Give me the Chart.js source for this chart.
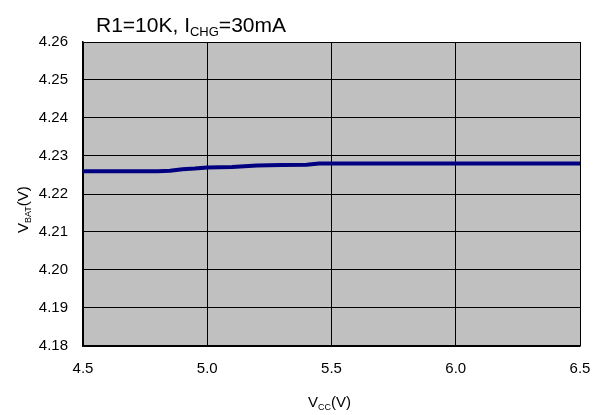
<!DOCTYPE html>
<html>
<head>
<meta charset="utf-8">
<script src="https://cdn.jsdelivr.net/npm/chart.js@4/dist/chart.umd.min.js"></script>
<style>
  html, body { margin: 0; padding: 0; background: #fff; }
  #wrap { width: 597px; height: 415px; }
</style>
</head>
<body>
<div id="wrap"><canvas id="chart"></canvas></div>
<script>
// supply voltage (V) and measured battery voltage (V)
const vcc = [4.5, 4.6, 4.7, 4.8, 4.85, 4.9, 4.95, 5.0, 5.1, 5.2, 5.3, 5.4, 5.45, 5.5, 5.75, 6.0, 6.25, 6.5];
const vbat = [4.226, 4.226, 4.226, 4.226, 4.2261, 4.2265, 4.2267, 4.227, 4.2271, 4.2275, 4.2276, 4.2277, 4.228, 4.228, 4.228, 4.228, 4.228, 4.228];

const xTicks = [4.5, 5.0, 5.5, 6.0, 6.5];
const yTicks = [4.18, 4.19, 4.20, 4.21, 4.22, 4.23, 4.24, 4.25, 4.26];

const FONT = 'Arial, "Liberation Sans", sans-serif';

// draw a run of text pieces, some of them as subscripts
function drawRich(ctx, parts, x, y, size) {
  let cx = x;
  parts.forEach(p => {
    const s = p.sub ? Math.round(size * 0.62) : size;
    ctx.font = s + 'px ' + FONT;
    ctx.fillText(p.t, cx, p.sub ? y + size * 0.18 : y);
    cx += ctx.measureText(p.t).width;
  });
}

const plotBg = {
  id: 'plotBg',
  beforeDraw(chart) {
    const { ctx, chartArea: a } = chart;
    ctx.save();
    ctx.fillStyle = '#c0c0c0';
    ctx.fillRect(a.left, a.top, a.right - a.left, a.bottom - a.top);
    ctx.restore();
  }
};

const labels = {
  id: 'labels',
  afterDraw(chart) {
    const ctx = chart.ctx;
    ctx.save();
    ctx.fillStyle = '#000';
    ctx.textBaseline = 'alphabetic';
    ctx.textAlign = 'left';
    drawRich(ctx, [{ t: 'R1=10K, I' }, { t: 'CHG', sub: true }, { t: '=30mA' }], 96, 32, 21);
    drawRich(ctx, [{ t: 'V' }, { t: 'CC', sub: true }, { t: '(V)' }], 308, 407, 15);
    ctx.translate(28, 233);
    ctx.rotate(-Math.PI / 2);
    drawRich(ctx, [{ t: 'V' }, { t: 'BAT', sub: true }, { t: '(V)' }], 0, 0, 15);
    ctx.restore();
  }
};

new Chart(document.getElementById('chart'), {
  type: 'line',
  data: {
    datasets: [{
      data: vcc.map((v, i) => ({ x: v, y: vbat[i] })),
      borderColor: '#000080',
      borderWidth: 4,
      pointRadius: 0,
      tension: 0,
      fill: false
    }]
  },
  options: {
    responsive: true,
    maintainAspectRatio: false,
    animation: false,
    layout: { padding: { top: 42, right: 17, left: 0, bottom: 0 } },
    plugins: { legend: { display: false }, tooltip: { enabled: false } },
    scales: {
      x: {
        type: 'linear',
        min: 4.5,
        max: 6.5,
        afterBuildTicks: s => { s.ticks = xTicks.map(v => ({ value: v })); },
        afterFit: s => { s.height = 69; s.paddingLeft = 0; s.paddingRight = 0; },
        ticks: {
          padding: 14,
          color: '#000',
          font: { family: FONT, size: 15 },
          callback: v => v.toFixed(1),
          maxRotation: 0
        },
        grid: { color: '#000', lineWidth: 1, drawTicks: false },
        border: { color: '#000', width: 1.5 }
      },
      y: {
        min: 4.18,
        max: 4.26,
        afterBuildTicks: s => { s.ticks = yTicks.map(v => ({ value: v })); },
        afterFit: s => { s.width = 83; s.paddingTop = 0; s.paddingBottom = 0; },
        ticks: {
          padding: 15,
          color: '#000',
          font: { family: FONT, size: 15 },
          callback: v => v.toFixed(2)
        },
        grid: { color: '#000', lineWidth: 1, drawTicks: false },
        border: { color: '#000', width: 1.5 }
      }
    }
  },
  plugins: [plotBg, labels]
});
</script>
</body>
</html>
